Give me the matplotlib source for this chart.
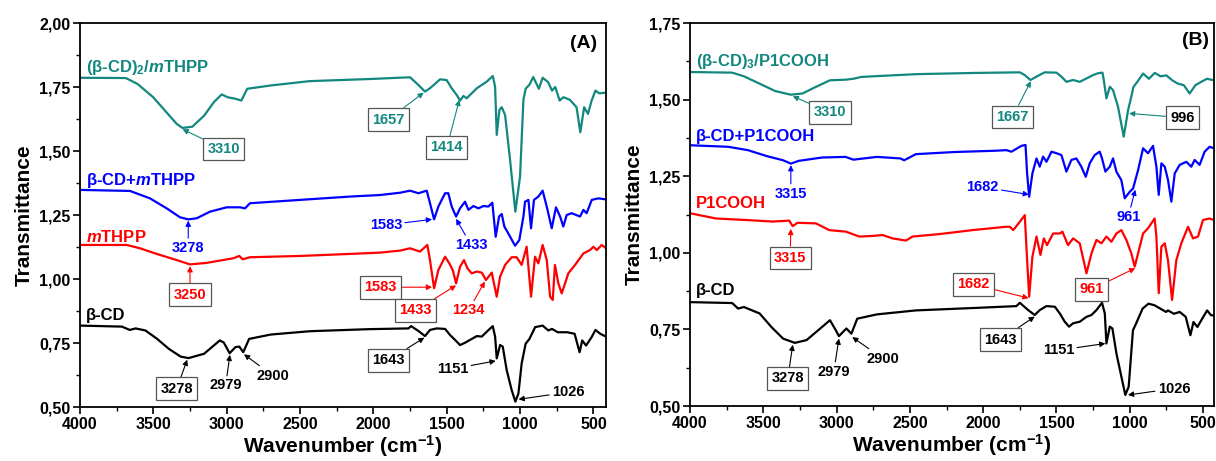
import matplotlib
matplotlib.use("Agg")
import matplotlib.pyplot as plt
from matplotlib.ticker import MultipleLocator, FuncFormatter

plt.rcParams['font.family'] = ['Liberation Sans', 'DejaVu Sans']
plt.rcParams['font.weight'] = 'bold'
plt.rcParams['mathtext.fontset'] = 'custom'
plt.rcParams['mathtext.rm'] = 'Liberation Sans:bold'
plt.rcParams['mathtext.bf'] = 'Liberation Sans:bold'
plt.rcParams['mathtext.it'] = 'Liberation Sans:bold:italic'
plt.rcParams['mathtext.default'] = 'rm'

TEAL = '#12877f'
BLUE = '#0000ff'
RED = '#ff0000'
BLACK = '#000000'

# ---------------- Panel A data ----------------
a_teal_wn = [4000, 3688, 3608, 3501, 3421, 3341, 3301, 3234, 3154, 3087, 3034, 2994, 2940, 2900, 2860,
             2700, 2433, 2033, 1750, 1693, 1648, 1614, 1545, 1500, 1466, 1432, 1409, 1386, 1364, 1330,
             1295, 1261, 1227, 1186, 1170, 1159, 1141, 1125, 1102, 1068, 1032, 1000, 977, 962, 935, 910,
             872, 846, 810, 782, 760, 730, 705, 660, 615, 589, 563, 537, 512, 486, 460, 414]
a_teal_t = [1.786, 1.785, 1.762, 1.710, 1.658, 1.606, 1.590, 1.595, 1.638, 1.691, 1.721, 1.710, 1.704, 1.697, 1.743,
            1.756, 1.773, 1.781, 1.788, 1.758, 1.732, 1.745, 1.780, 1.777, 1.745, 1.719, 1.697, 1.715, 1.706, 1.725,
            1.745, 1.758, 1.771, 1.793, 1.751, 1.563, 1.660, 1.671, 1.641, 1.465, 1.263, 1.400, 1.700, 1.743, 1.760, 1.789,
            1.743, 1.786, 1.770, 1.736, 1.750, 1.697, 1.710, 1.700, 1.671, 1.573, 1.671, 1.645, 1.697, 1.736, 1.725, 1.728]

a_blue_wn = [4000, 3659, 3523, 3409, 3318, 3262, 3205, 3114, 3000, 2909, 2875, 2841, 2500, 2159, 1955, 1818,
             1750, 1693, 1636, 1614, 1586, 1557, 1511, 1489, 1466, 1436, 1409, 1375, 1352, 1318, 1284, 1250,
             1216, 1189, 1166, 1143, 1125, 1107, 1080, 1034, 1005, 977, 966, 943, 925, 905, 875, 846, 818, 784,
             755, 727, 705, 682, 648, 591, 568, 546, 511, 466, 414]
a_blue_t = [1.348, 1.344, 1.315, 1.276, 1.241, 1.233, 1.237, 1.263, 1.280, 1.280, 1.276, 1.296, 1.309, 1.322, 1.328, 1.337,
            1.345, 1.335, 1.345, 1.296, 1.233, 1.283, 1.335, 1.335, 1.283, 1.244, 1.276, 1.302, 1.270, 1.285, 1.276, 1.285,
            1.283, 1.298, 1.165, 1.244, 1.254, 1.205, 1.178, 1.130, 1.152, 1.244, 1.302, 1.309, 1.198, 1.309, 1.322, 1.345, 1.283, 1.198,
            1.280, 1.244, 1.205, 1.250, 1.257, 1.244, 1.270, 1.257, 1.309, 1.315, 1.311]

a_red_wn = [4000, 3682, 3591, 3477, 3341, 3250, 3136, 2955, 2914, 2891, 2841, 2500, 2159, 1955, 1818, 1750,
            1682, 1632, 1614, 1586, 1557, 1511, 1482, 1459, 1436, 1409, 1382, 1359, 1330, 1295, 1261, 1232,
            1193, 1159, 1136, 1102, 1057, 1023, 989, 955, 925, 898, 875, 846, 818, 795, 777, 762, 739, 716,
            693, 671, 625, 568, 523, 500, 477, 443, 414]
a_red_t = [1.133, 1.133, 1.120, 1.098, 1.074, 1.057, 1.063, 1.081, 1.090, 1.077, 1.085, 1.090, 1.098, 1.103, 1.111, 1.120,
           1.107, 1.133, 1.074, 0.964, 1.035, 1.087, 1.061, 1.035, 0.983, 1.048, 1.074, 1.042, 1.022, 1.029, 1.025, 0.996,
           1.025, 0.931, 1.009, 1.055, 1.085, 1.085, 1.055, 1.126, 0.931, 1.087, 1.061, 1.133, 1.074, 0.931, 0.918, 1.055, 0.983, 0.944,
           0.983, 1.022, 1.055, 1.100, 1.113, 1.126, 1.113, 1.133, 1.120]

a_black_wn = [4000, 3714, 3661, 3621, 3554, 3474, 3394, 3314, 3260, 3154, 3047, 3020, 2980, 2940, 2914, 2887,
              2847, 2700, 2433, 2033, 1761, 1743, 1693, 1648, 1614, 1568, 1511, 1477, 1443, 1409, 1375, 1341,
              1295, 1261, 1227, 1186, 1170, 1159, 1136, 1118, 1091, 1057, 1032, 1011, 989, 962, 936, 897, 846,
              807, 782, 743, 679, 628, 594, 576, 550, 512, 486, 453, 414]
a_black_t = [0.818, 0.814, 0.801, 0.807, 0.799, 0.766, 0.727, 0.697, 0.691, 0.708, 0.760, 0.752, 0.710, 0.734, 0.736, 0.714,
             0.766, 0.783, 0.796, 0.804, 0.807, 0.816, 0.797, 0.777, 0.801, 0.807, 0.805, 0.781, 0.762, 0.742, 0.751, 0.762,
             0.777, 0.775, 0.794, 0.816, 0.775, 0.690, 0.742, 0.736, 0.644, 0.566, 0.521, 0.553, 0.670, 0.747, 0.766, 0.812, 0.818,
             0.799, 0.805, 0.792, 0.792, 0.786, 0.714, 0.760, 0.740, 0.773, 0.801, 0.786, 0.775]

# ---------------- Panel B data ----------------
b_teal_wn = [4000, 3712, 3632, 3525, 3419, 3312, 3232, 3152, 3045, 2939, 2885, 2832, 2459, 2058, 1750, 1716,
             1677, 1636, 1580, 1500, 1466, 1432, 1386, 1341, 1295, 1250, 1216, 1186, 1177, 1159, 1136, 1114,
             1080, 1041, 1011, 989, 975, 948, 909, 869, 829, 790, 750, 710, 671, 631, 591, 552, 512, 473, 425]
b_teal_t = [1.590, 1.588, 1.576, 1.552, 1.528, 1.516, 1.520, 1.539, 1.563, 1.565, 1.568, 1.574, 1.583, 1.587, 1.589, 1.580,
            1.564, 1.575, 1.589, 1.588, 1.575, 1.558, 1.564, 1.558, 1.569, 1.580, 1.586, 1.588, 1.564, 1.504, 1.542, 1.531,
            1.477, 1.379, 1.466, 1.510, 1.541, 1.558, 1.585, 1.568, 1.587, 1.576, 1.579, 1.563, 1.552, 1.547, 1.520, 1.547, 1.558, 1.568, 1.563]

b_blue_wn = [4000, 3739, 3605, 3472, 3365, 3312, 3259, 3099, 2939, 2885, 2725, 2565, 2539, 2459, 2192, 1925,
             1841, 1807, 1739, 1711, 1700, 1686, 1664, 1636, 1614, 1591, 1568, 1534, 1500, 1466, 1432, 1398,
             1364, 1330, 1300, 1273, 1239, 1205, 1189, 1166, 1136, 1114, 1091, 1057, 1034, 1000, 977, 943, 909,
             875, 841, 818, 802, 784, 761, 739, 716, 693, 659, 614, 580, 557, 523, 489, 455, 425]
b_blue_t = [1.351, 1.346, 1.335, 1.315, 1.302, 1.291, 1.300, 1.311, 1.313, 1.304, 1.313, 1.308, 1.302, 1.322, 1.329, 1.333,
            1.335, 1.330, 1.349, 1.352, 1.259, 1.183, 1.259, 1.308, 1.281, 1.314, 1.297, 1.330, 1.325, 1.319, 1.265, 1.303,
            1.308, 1.281, 1.248, 1.292, 1.319, 1.330, 1.308, 1.265, 1.281, 1.308, 1.265, 1.237, 1.178, 1.199, 1.210, 1.270, 1.341,
            1.325, 1.349, 1.281, 1.189, 1.292, 1.281, 1.238, 1.167, 1.259, 1.287, 1.297, 1.281, 1.303, 1.287, 1.330, 1.346, 1.341]

b_red_wn = [4000, 3823, 3618, 3436, 3323, 3300, 3266, 3141, 3050, 2936, 2845, 2755, 2686, 2618, 2527, 2482,
            2300, 2073, 1845, 1818, 1795, 1750, 1716, 1700, 1686, 1664, 1636, 1609, 1586, 1564, 1523, 1477,
            1459, 1421, 1386, 1341, 1295, 1261, 1227, 1193, 1159, 1125, 1091, 1057, 1023, 989, 966, 943, 909,
            875, 830, 818, 802, 784, 761, 739, 711, 682, 648, 602, 568, 534, 500, 455, 425]
b_red_t = [1.129, 1.112, 1.107, 1.102, 1.105, 1.087, 1.098, 1.096, 1.074, 1.069, 1.053, 1.055, 1.058, 1.047, 1.040, 1.053,
           1.061, 1.074, 1.085, 1.085, 1.074, 1.101, 1.123, 0.976, 0.857, 0.987, 1.053, 0.993, 1.047, 1.025, 1.063, 1.063,
           1.069, 1.025, 1.047, 1.031, 0.933, 0.998, 1.042, 1.031, 1.053, 1.036, 1.063, 1.074, 1.042, 0.998, 0.955, 0.998, 1.063,
           1.080, 1.112, 1.053, 0.868, 1.020, 1.031, 0.976, 0.846, 0.976, 1.031, 1.085, 1.047, 1.053, 1.107, 1.112, 1.107]

b_black_wn = [4000, 3712, 3672, 3632, 3525, 3445, 3365, 3285, 3205, 3099, 3045, 3005, 2984, 2933, 2899, 2859,
              2725, 2459, 2058, 1773, 1750, 1693, 1648, 1614, 1568, 1511, 1477, 1443, 1414, 1386, 1341, 1295,
              1261, 1227, 1189, 1170, 1159, 1136, 1118, 1091, 1057, 1030, 1007, 978, 952, 912, 872, 832, 792,
              752, 739, 699, 659, 618, 586, 565, 538, 498, 472, 445, 425]
b_black_t = [0.839, 0.836, 0.818, 0.823, 0.802, 0.758, 0.720, 0.706, 0.715, 0.758, 0.780, 0.747, 0.728, 0.753, 0.736, 0.785,
             0.799, 0.812, 0.820, 0.826, 0.837, 0.813, 0.797, 0.813, 0.826, 0.824, 0.802, 0.775, 0.759, 0.770, 0.775, 0.791,
             0.797, 0.813, 0.837, 0.802, 0.704, 0.759, 0.753, 0.672, 0.596, 0.536, 0.563, 0.747, 0.774, 0.818, 0.834, 0.829, 0.818,
             0.807, 0.812, 0.801, 0.807, 0.791, 0.731, 0.774, 0.758, 0.791, 0.812, 0.796, 0.796]

# series names
a_names = [r'(β-CD)$_{2}$/$\mathit{m}$THPP', r'β-CD+$\mathit{m}$THPP', r'$\mathit{m}$THPP', 'β-CD']
b_names = [r'(β-CD)$_{3}$/P1COOH', 'β-CD+P1COOH', 'P1COOH', 'β-CD']

# annotations: (text, arrow target (wn, T), text pos (wn, T), color, boxed, text color)
a_notes = [
    ('3310', (3301, 1.585), (3020, 1.508), TEAL, True, TEAL),
    ('1657', (1657, 1.728), (1899, 1.623), TEAL, True, TEAL),
    ('1414', (1414, 1.700), (1499, 1.514), TEAL, True, TEAL),
    ('1583', (1600, 1.233), (1914, 1.211), BLUE, False, BLUE),
    ('1433', (1436, 1.235), (1335, 1.133), BLUE, False, BLUE),
    ('3278', (3262, 1.228), (3262, 1.121), BLUE, False, BLUE),
    ('3250', (3250, 1.050), (3250, 0.938), RED, True, RED),
    ('1583', (1600, 0.968), (1953, 0.968), RED, True, RED),
    ('1433', (1436, 0.975), (1713, 0.877), RED, True, RED),
    ('1234', (1240, 0.990), (1352, 0.877), RED, False, RED),
    ('3278', (3269, 0.685), (3341, 0.571), BLACK, True, BLACK),
    ('2979', (2978, 0.704), (3007, 0.584), BLACK, False, BLACK),
    ('2900', (2882, 0.706), (2687, 0.623), BLACK, False, BLACK),
    ('1643', (1652, 0.771), (1899, 0.682), BLACK, True, BLACK),
    ('1151', (1166, 0.680), (1459, 0.649), BLACK, False, BLACK),
    ('1026', (1010, 0.530), (672, 0.558), BLACK, False, BLACK),
]
b_notes = [
    ('3310', (3299, 1.511), (3045, 1.458), TEAL, True, TEAL),
    ('1667', (1675, 1.560), (1800, 1.443), TEAL, True, TEAL),
    ('996', (1005, 1.455), (640, 1.441), TEAL, True, BLACK),
    ('3315', (3312, 1.286), (3312, 1.193), BLUE, False, BLUE),
    ('1682', (1688, 1.190), (2005, 1.215), BLUE, False, BLUE),
    ('961', (962, 1.206), (1010, 1.117), BLUE, False, BLUE),
    ('3315', (3312, 1.078), (3317, 0.983), RED, True, RED),
    ('1682', (1690, 0.852), (2066, 0.897), RED, True, RED),
    ('961', (962, 0.950), (1258, 0.881), RED, True, RED),
    ('3278', (3299, 0.700), (3333, 0.590), BLACK, True, BLACK),
    ('2979', (2984, 0.720), (3019, 0.612), BLACK, False, BLACK),
    ('2900', (2893, 0.725), (2685, 0.655), BLACK, False, BLACK),
    ('1643', (1648, 0.792), (1880, 0.717), BLACK, True, BLACK),
    ('1151', (1166, 0.704), (1485, 0.682), BLACK, False, BLACK),
    ('1026', (1012, 0.536), (698, 0.557), BLACK, False, BLACK),
]

fig = plt.figure(figsize=(12.16, 4.61), dpi=100)
axA = fig.add_axes([80 / 1216, 1 - 407 / 461, 526 / 1216, 384 / 461])
axB = fig.add_axes([690 / 1216, 1 - 406 / 461, 524 / 1216, 383 / 461])

colors = [TEAL, BLUE, RED, BLACK]


def style_axis(ax, ylim, xlim):
    ax.set_xlim(*xlim)
    ax.set_ylim(*ylim)
    ax.xaxis.set_major_locator(MultipleLocator(500))
    ax.xaxis.set_minor_locator(MultipleLocator(250))
    ax.yaxis.set_major_locator(MultipleLocator(0.25))
    ax.yaxis.set_minor_locator(MultipleLocator(0.125))
    ax.yaxis.set_major_formatter(FuncFormatter(lambda v, p: f'{v:.2f}'.replace('.', ',')))
    ax.xaxis.set_major_formatter(FuncFormatter(lambda v, p: f'{v:.0f}'))
    ax.tick_params(which='major', direction='out', length=5, width=1.2, labelsize=11.5, pad=2)
    ax.tick_params(which='minor', direction='out', length=3, width=1.0)
    ax.tick_params(top=False, right=False)
    for s in ax.spines.values():
        s.set_linewidth(1.3)
    for lab in ax.get_xticklabels() + ax.get_yticklabels():
        lab.set_fontweight('bold')
    ax.set_xlabel(r'Wavenumber (cm$^{-1}$)', fontsize=15, fontweight='bold', labelpad=1)
    ax.set_ylabel('Transmittance', fontsize=15, fontweight='bold', labelpad=4)


def annotate(ax, notes):
    for text, xy, xyt, col, boxed, tcol in notes:
        bbox = dict(boxstyle='square,pad=0.3', fc='white', ec='#555555', lw=0.9) if boxed else None
        ax.annotate(text, xy=xy, xytext=xyt, textcoords='data', ha='center', va='center',
                    fontsize=10.5, fontweight='bold', color=tcol, bbox=bbox,
                    arrowprops=dict(arrowstyle='-|>', color=col, lw=0.8, mutation_scale=8,
                                    shrinkA=0, shrinkB=0))


seriesA = [(a_teal_wn, a_teal_t), (a_blue_wn, a_blue_t), (a_red_wn, a_red_t), (a_black_wn, a_black_t)]
seriesB = [(b_teal_wn, b_teal_t), (b_blue_wn, b_blue_t), (b_red_wn, b_red_t), (b_black_wn, b_black_t)]

for (wn, t), c in zip(seriesA, colors):
    axA.plot(wn, t, color=c, lw=1.6)
for (wn, t), c in zip(seriesB, colors):
    axB.plot(wn, t, color=c, lw=1.6)

style_axis(axA, (0.5, 2.0), (4000, 414))
style_axis(axB, (0.5, 1.75), (4000, 425))

# series labels
a_label_T = [1.828, 1.384, 1.166, 0.857]
b_label_T = [1.623, 1.378, 1.161, 0.877]
for name, T, c in zip(a_names, a_label_T, colors):
    axA.text(3960, T, name, color=c, fontsize=12, fontweight='bold', ha='left', va='center')
for name, T, c in zip(b_names, b_label_T, colors):
    axB.text(3960, T, name, color=c, fontsize=12, fontweight='bold', ha='left', va='center')

axA.text(565, 1.919, '(A)', fontsize=14, fontweight='bold', ha='center', va='center')
axB.text(552, 1.693, '(B)', fontsize=14, fontweight='bold', ha='center', va='center')

annotate(axA, a_notes)
annotate(axB, b_notes)

fig.savefig('out.png', dpi=100)
